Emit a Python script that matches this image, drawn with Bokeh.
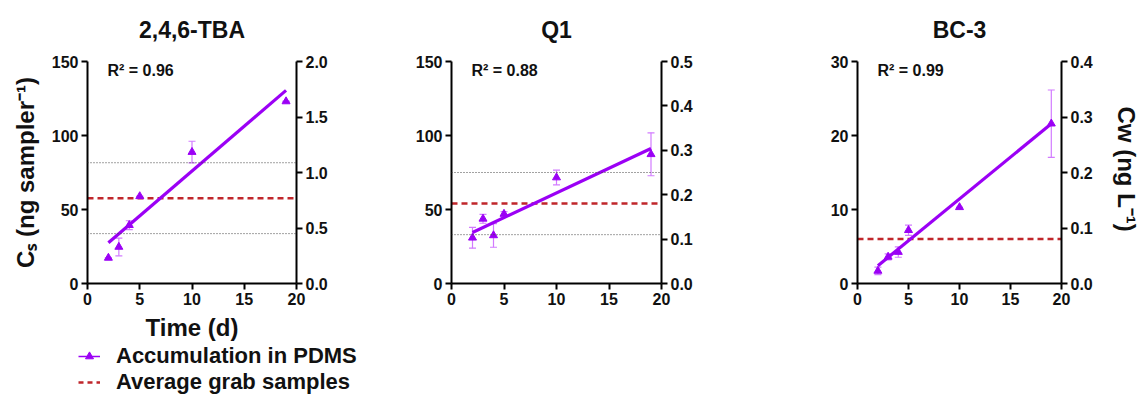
from bokeh.plotting import figure
from bokeh.models import (Range1d, LinearAxis, FixedTicker, PrintfTickFormatter,
                          ColumnDataSource, Whisker, Span, Label, Legend, LegendItem, Title)
from bokeh.layouts import row, column
from bokeh.embed import file_html
from bokeh.resources import INLINE

# ---------------- data ----------------
titles = ["2,4,6-TBA", "Q1", "BC-3"]
days = [2, 3, 4, 5, 10, 19]

cs_tba = [17.3, 24.7, 39.4, 58.9, 88.8, 123.0]
err_tba = [0.0, 6.0, 3.0, 0.0, 7.3, 0.0]
cs_q1 = [30.9, 43.7, 32.5, 47.0, 71.6, 87.3]
err_q1 = [7.0, 3.0, 8.0, 1.5, 5.0, 14.5]
cs_bc3 = [1.7, 3.6, 4.25, 7.2, 10.3, 21.6]
err_bc3 = [0.5, 0.4, 0.7, 0.7, 0.0, 4.55]

fit_x = [2, 19]
fit_tba = [27.5, 130.5]
fit_q1 = [34.5, 91.2]
fit_bc3 = [2.4, 21.6]

r2_labels = ["R\u00b2 = 0.96", "R\u00b2 = 0.88", "R\u00b2 = 0.99"]
grab_avg = [57.6, 54.0, 6.0]
grab_range = [[33.7, 81.6], [33.0, 75.0], []]

left_max = [150, 150, 30]
left_ticks = [[0, 50, 100, 150], [0, 50, 100, 150], [0, 10, 20, 30]]
right_max = [2.0, 0.5, 0.4]
right_ticks = [[0.0, 0.5, 1.0, 1.5, 2.0], [0.0, 0.1, 0.2, 0.3, 0.4, 0.5], [0.0, 0.1, 0.2, 0.3, 0.4]]
x_ticks = [0, 5, 10, 15, 20]

legend_labels = ["Accumulation in PDMS", "Average grab samples"]

series = [cs_tba, cs_q1, cs_bc3]
errors = [err_tba, err_q1, err_bc3]
fits = [fit_tba, fit_q1, fit_bc3]

# ---------------- style ----------------
FONT = "Liberation Sans"
PURPLE = "#9B00F5"
PURPLE_LIGHT = "#D27BFF"
RED = "#C0262B"

widths = [380, 380, 382]
borders_l = [87, 71, 97]
H = 344
TOP = 60
FRAME_H = 223
FRAME_W = [209, 210, 210]
BOTTOM = H - TOP - FRAME_H
LEG_H = 51


def style_axis(ax):
    ax.axis_line_width = 2
    ax.axis_line_color = "black"
    ax.major_tick_line_width = 2
    ax.major_tick_line_color = "black"
    ax.major_tick_out = 6
    ax.major_tick_in = 0
    ax.minor_tick_line_color = None
    ax.major_label_text_font = FONT
    ax.major_label_text_font_style = "bold"
    ax.major_label_text_font_size = "16px"
    ax.major_label_text_color = "#111111"
    ax.major_label_standoff = 3
    ax.axis_label_text_font = FONT
    ax.axis_label_text_font_style = "bold"
    ax.axis_label_text_font_size = "24px"
    ax.axis_label_text_color = "#111111"


figs = []
for i in range(3):
    p = figure(width=widths[i], height=H, output_backend="svg", toolbar_location=None,
               x_range=Range1d(0, 20), y_range=Range1d(0, left_max[i]),
               min_border_left=borders_l[i],
               min_border_right=widths[i] - borders_l[i] - FRAME_W[i],
               min_border_top=TOP, min_border_bottom=BOTTOM)
    p.extra_y_ranges = {"right": Range1d(0, right_max[i])}
    p.outline_line_color = None
    p.grid.visible = False
    p.background_fill_color = "white"
    p.border_fill_color = "white"

    p.title = Title(text=titles[i], align="center", text_font=FONT, text_font_style="bold",
                    text_font_size="23px", text_color="#111111", standoff=33,
                    vertical_align="top")

    xax = p.xaxis[0]
    lax = p.yaxis[0]
    xax.ticker = FixedTicker(ticks=x_ticks)
    lax.ticker = FixedTicker(ticks=left_ticks[i])
    style_axis(xax)
    style_axis(lax)

    rax = LinearAxis(y_range_name="right", ticker=FixedTicker(ticks=right_ticks[i]),
                     formatter=PrintfTickFormatter(format="%.1f"))
    style_axis(rax)
    p.add_layout(rax, "right")

    if i == 0:
        xax.axis_label = "Time (d)"
        xax.axis_label_standoff = 6
        lax.axis_label = "C\u209b (ng sampler\u207b\u00b9)"
        lax.axis_label_standoff = 10
    if i == 2:
        rax.axis_label = "C\u1d21  (ng L\u207b\u00b9)"
        rax.axis_label_standoff = 17

    # grab sample range (dotted) and average (dashed)
    for v in grab_range[i]:
        p.add_layout(Span(location=v, dimension="width", line_color="#444444",
                          line_width=1, line_dash="1 2"))
    avg_src = ColumnDataSource(dict(x=[0, 20], y=[grab_avg[i]] * 2))
    p.line("x", "y", source=avg_src, line_color=RED, line_width=2.5, line_dash="6 4")

    # error bars
    y = series[i]
    e = errors[i]
    src = ColumnDataSource(dict(x=days, y=y,
                                lo=[a - b for a, b in zip(y, e)],
                                hi=[a + b for a, b in zip(y, e)]))
    wh = Whisker(source=src, base="x", lower="lo", upper="hi",
                 line_color=PURPLE_LIGHT, line_width=1.2)
    for head in (wh.upper_head, wh.lower_head):
        head.size = 7
        head.line_color = PURPLE_LIGHT
        head.line_width = 1.2
    p.add_layout(wh)

    p.line(fit_x, fits[i], line_color=PURPLE, line_width=3.2)
    p.scatter("x", "y", source=src, marker="triangle", size=8,
              fill_color=PURPLE, line_color=PURPLE)

    p.add_layout(Label(x=20, y=FRAME_H - 18, x_units="screen", y_units="screen",
                       text=r2_labels[i], text_font=FONT, text_font_style="bold",
                       text_font_size="16px", text_color="#111111"))
    figs.append(p)

# legend strip below the first panel
lf = figure(width=380, height=LEG_H, output_backend="svg", toolbar_location=None,
            x_axis_location=None, y_axis_location=None, min_border=0,
            x_range=Range1d(0, 1), y_range=Range1d(0, 1))
lf.outline_line_color = None
lf.grid.visible = False
nan = float("nan")
empty = ColumnDataSource(dict(x=[nan], y=[nan]))
l_line = lf.line("x", "y", source=empty, line_color=PURPLE, line_width=1.5)
l_pts = lf.scatter("x", "y", source=empty, marker="triangle", size=8,
                   fill_color=PURPLE, line_color=PURPLE)
l_dash = lf.line("x", "y", source=empty, line_color=RED, line_width=2.5, line_dash="5 4")
legend = Legend(items=[
    LegendItem(label=legend_labels[0], renderers=[l_line, l_pts]),
    LegendItem(label=legend_labels[1], renderers=[l_dash]),
], location=(78, 0), orientation="vertical",
    label_text_font=FONT, label_text_font_style="bold", label_text_font_size="22px",
    label_text_color="#111111", glyph_width=22, glyph_height=20, label_standoff=16,
    label_height=21, spacing=0, padding=0, margin=0,
    border_line_color=None, background_fill_alpha=0)
lf.add_layout(legend, "center")

layout = column(row(*figs, spacing=0), lf, spacing=0)
open("out.html", "w").write(file_html(layout, INLINE))
